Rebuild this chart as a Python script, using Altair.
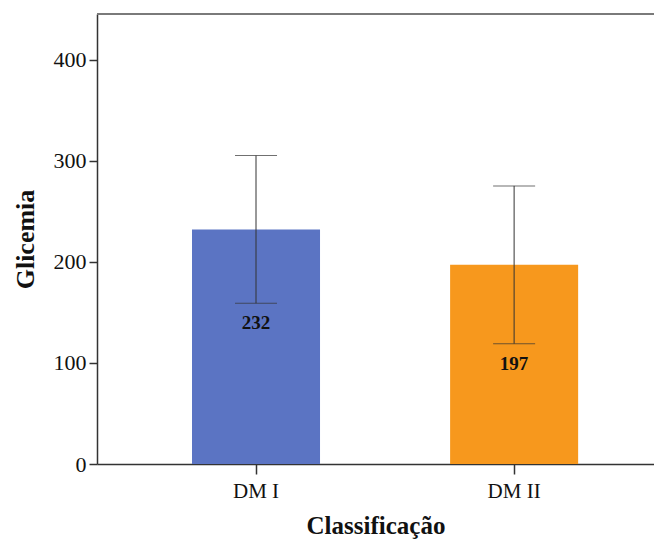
import altair as alt
import pandas as pd

categories = ["DM I", "DM II"]
means = [232, 197]
lower = [159, 119]
upper = [305, 275]
colors = ["#5b74c3", "#f7981d"]

df = pd.DataFrame({"cat": categories, "mean": means, "lo": lower, "hi": upper})

FONT = "Liberation Serif"
W, H = 557, 450

x = alt.X("cat:N", sort=categories,
          scale=alt.Scale(paddingInner=0.504, paddingOuter=0.331, align=0.556),
          axis=alt.Axis(title="Classificação", labelAngle=0, tickSize=10, labelPadding=6,
                        labelFontSize=21, titleFontSize=25, titlePadding=12))
y_scale = alt.Scale(domain=[0, 445], nice=False, zero=True)
y_axis = alt.Axis(title="Glicemia", values=[0, 100, 200, 300, 400], grid=False,
                  tickSize=8, labelPadding=3, labelFontSize=22, titleFontSize=26,
                  titlePadding=15)

base = alt.Chart(df)

bars = base.mark_bar().encode(
    x=x,
    y=alt.Y("mean:Q", scale=y_scale, axis=y_axis),
    color=alt.Color("cat:N", scale=alt.Scale(domain=categories, range=colors), legend=None),
)

err = base.mark_rule(color="#333333", strokeWidth=1).encode(
    x=alt.X("cat:N", sort=categories),
    y=alt.Y("lo:Q", scale=y_scale),
    y2="hi:Q",
)

cap_lo = base.mark_tick(color="#333333", thickness=1, size=42, orient="horizontal").encode(
    x=alt.X("cat:N", sort=categories),
    y=alt.Y("lo:Q", scale=y_scale),
)
cap_hi = base.mark_tick(color="#333333", thickness=1, size=42, orient="horizontal").encode(
    x=alt.X("cat:N", sort=categories),
    y=alt.Y("hi:Q", scale=y_scale),
)

labels = base.mark_text(font=FONT, fontSize=19, fontWeight="bold", color="#111111",
                        dy=20, baseline="middle").encode(
    x=alt.X("cat:N", sort=categories),
    y=alt.Y("lo:Q", scale=y_scale),
    text="mean:Q",
)

top_border = alt.Chart(pd.DataFrame({"k": [0]})).mark_rule(
    color="#7a7a7a", strokeWidth=2
).encode(x=alt.value(0), x2=alt.value(W), y=alt.value(0))

chart = alt.layer(bars, err, cap_lo, cap_hi, labels, top_border).properties(
    width=W, height=H,
    autosize=alt.AutoSizeParams(type="none"),
    padding={"left": 89, "top": 6, "right": 0, "bottom": 76},
).configure_view(
    stroke=None
).configure_axis(
    labelFont=FONT, labelColor="#111111",
    titleFont=FONT, titleFontWeight="bold", titleColor="#111111",
    domainColor="#333333", tickColor="#333333", domainWidth=1.5, tickWidth=1.5,
)

chart.save("out.html", embed_options={"renderer": "svg", "actions": False})
